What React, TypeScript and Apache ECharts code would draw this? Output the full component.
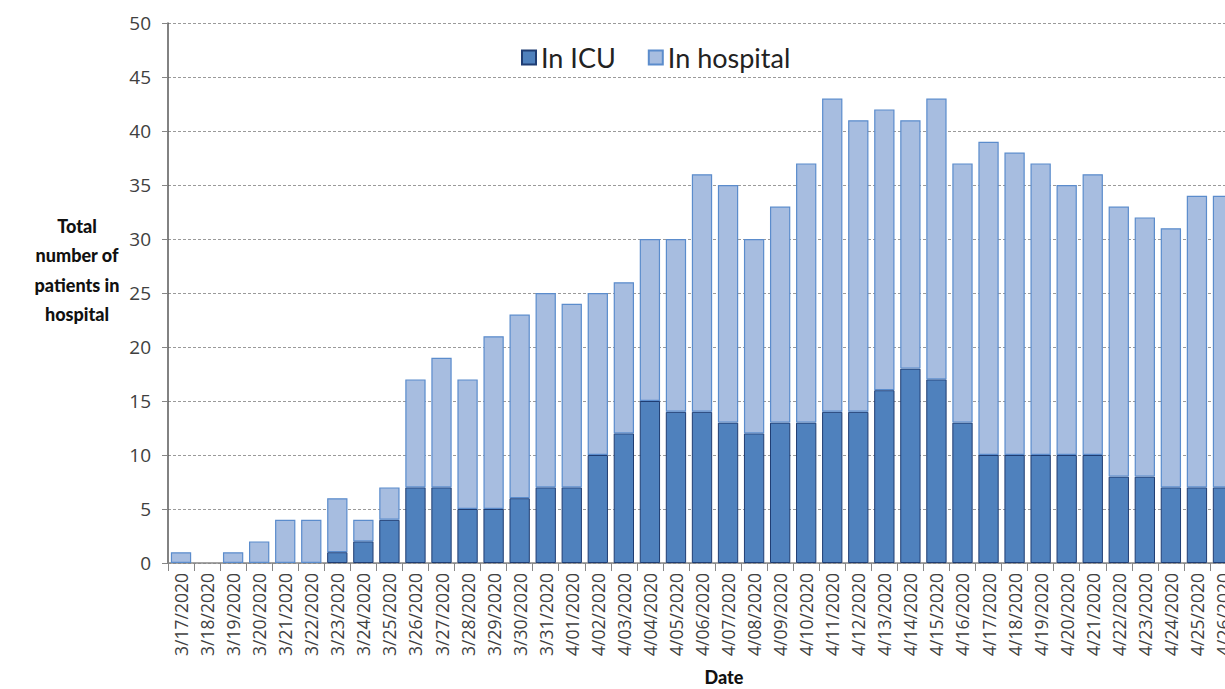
import React, { useEffect, useRef } from "react";
import * as echarts from "echarts";

const dates = [
  "3/17/2020", "3/18/2020", "3/19/2020", "3/20/2020", "3/21/2020", "3/22/2020", "3/23/2020",
  "3/24/2020", "3/25/2020", "3/26/2020", "3/27/2020", "3/28/2020", "3/29/2020", "3/30/2020",
  "3/31/2020", "4/01/2020", "4/02/2020", "4/03/2020", "4/04/2020", "4/05/2020", "4/06/2020",
  "4/07/2020", "4/08/2020", "4/09/2020", "4/10/2020", "4/11/2020", "4/12/2020", "4/13/2020",
  "4/14/2020", "4/15/2020", "4/16/2020", "4/17/2020", "4/18/2020", "4/19/2020", "4/20/2020",
  "4/21/2020", "4/22/2020", "4/23/2020", "4/24/2020", "4/25/2020", "4/26/2020",
];
const totalPatients = [
  1, 0, 1, 2, 4, 4, 6, 4, 7, 17, 19, 17, 21, 23, 25, 24, 25, 26, 30, 30, 36,
  35, 30, 33, 37, 43, 41, 42, 41, 43, 37, 39, 38, 37, 35, 36, 33, 32, 31, 34, 34,
];
const inIcu = [
  0, 0, 0, 0, 0, 0, 1, 2, 4, 7, 7, 5, 5, 6, 7, 7, 10, 12, 15, 14, 14,
  13, 12, 13, 13, 14, 14, 16, 18, 17, 13, 10, 10, 10, 10, 10, 8, 8, 7, 7, 7,
];
const yTicks = { min: 0, max: 50, interval: 5 };
const seriesNames = ["In ICU", "In hospital"];

export default function App() {
  const ref = useRef<HTMLDivElement>(null);
  useEffect(() => {
    if (!ref.current) return;
    const chart = echarts.init(ref.current, undefined, { renderer: "svg" });
    const blankZero = (v: number) => (v === 0 ? null : v);
    const icuData = inIcu.map(blankZero);
    const nonIcuData = totalPatients.map((t, i) => blankZero(t - inIcu[i]));
    const font = "'Open Sans', sans-serif";
    const titleFont = "Lato, 'Open Sans', sans-serif";
    chart.setOption({
      animation: false,
      backgroundColor: "#ffffff",
      grid: { left: 168, top: 23, width: 1068, height: 540, containLabel: false },
      legend: {
        data: seriesNames,
        left: 516,
        top: 39,
        icon: "rect",
        itemWidth: 14,
        itemHeight: 14,
        itemGap: 32,
        textStyle: { fontFamily: titleFont, fontSize: 27, color: "#222" },
      },
      xAxis: {
        type: "category",
        data: dates,
        axisLine: { lineStyle: { color: "#868686", width: 1.5 } },
        axisTick: { show: true, length: 8, alignWithLabel: false, lineStyle: { color: "#868686" } },
        axisLabel: {
          rotate: 90,
          interval: 0,
          fontFamily: font,
          fontSize: 17.5,
          color: "#404040",
          margin: 10,
        },
      },
      yAxis: {
        type: "value",
        min: yTicks.min,
        max: yTicks.max,
        interval: yTicks.interval,
        axisLine: { show: true, lineStyle: { color: "#595959", width: 1.5 } },
        axisTick: { show: true, length: 6, lineStyle: { color: "#868686" } },
        axisLabel: { fontFamily: font, fontSize: 19, color: "#404040", margin: 17 },
        splitLine: { show: true, lineStyle: { color: "#9a9a9a", type: [3, 2], width: 1 } },
      },
      series: [
        {
          name: seriesNames[0],
          type: "bar",
          stack: "total",
          data: icuData,
          barCategoryGap: "22%",
          itemStyle: { color: "#4f81bd", borderColor: "#1f3d73", borderWidth: 1 },
        },
        {
          name: seriesNames[1],
          type: "bar",
          stack: "total",
          data: nonIcuData,
          barCategoryGap: "22%",
          itemStyle: { color: "#a7bde0", borderColor: "#5b8ccc", borderWidth: 1.2 },
        },
      ],
      graphic: [
        {
          type: "text",
          x: 77,
          y: 211,
          style: {
            text: "Total\nnumber of\npatients in\nhospital",
            fontFamily: titleFont,
            fontWeight: 900,
            fontSize: 18,
            lineHeight: 29.5,
            align: "center",
            fill: "#111",
          },
        },
        {
          type: "text",
          x: 724,
          y: 668,
          style: {
            text: "Date",
            fontFamily: titleFont,
            fontWeight: 900,
            fontSize: 18,
            align: "center",
            fill: "#111",
          },
        },
      ],
    });
    return () => chart.dispose();
  }, []);
  return (
    <div style={{ position: "absolute", left: 0, top: 0, width: 1225, height: 689, overflow: "hidden" }}>
      <div ref={ref} style={{ width: 1260, height: 689 }} />
    </div>
  );
}
